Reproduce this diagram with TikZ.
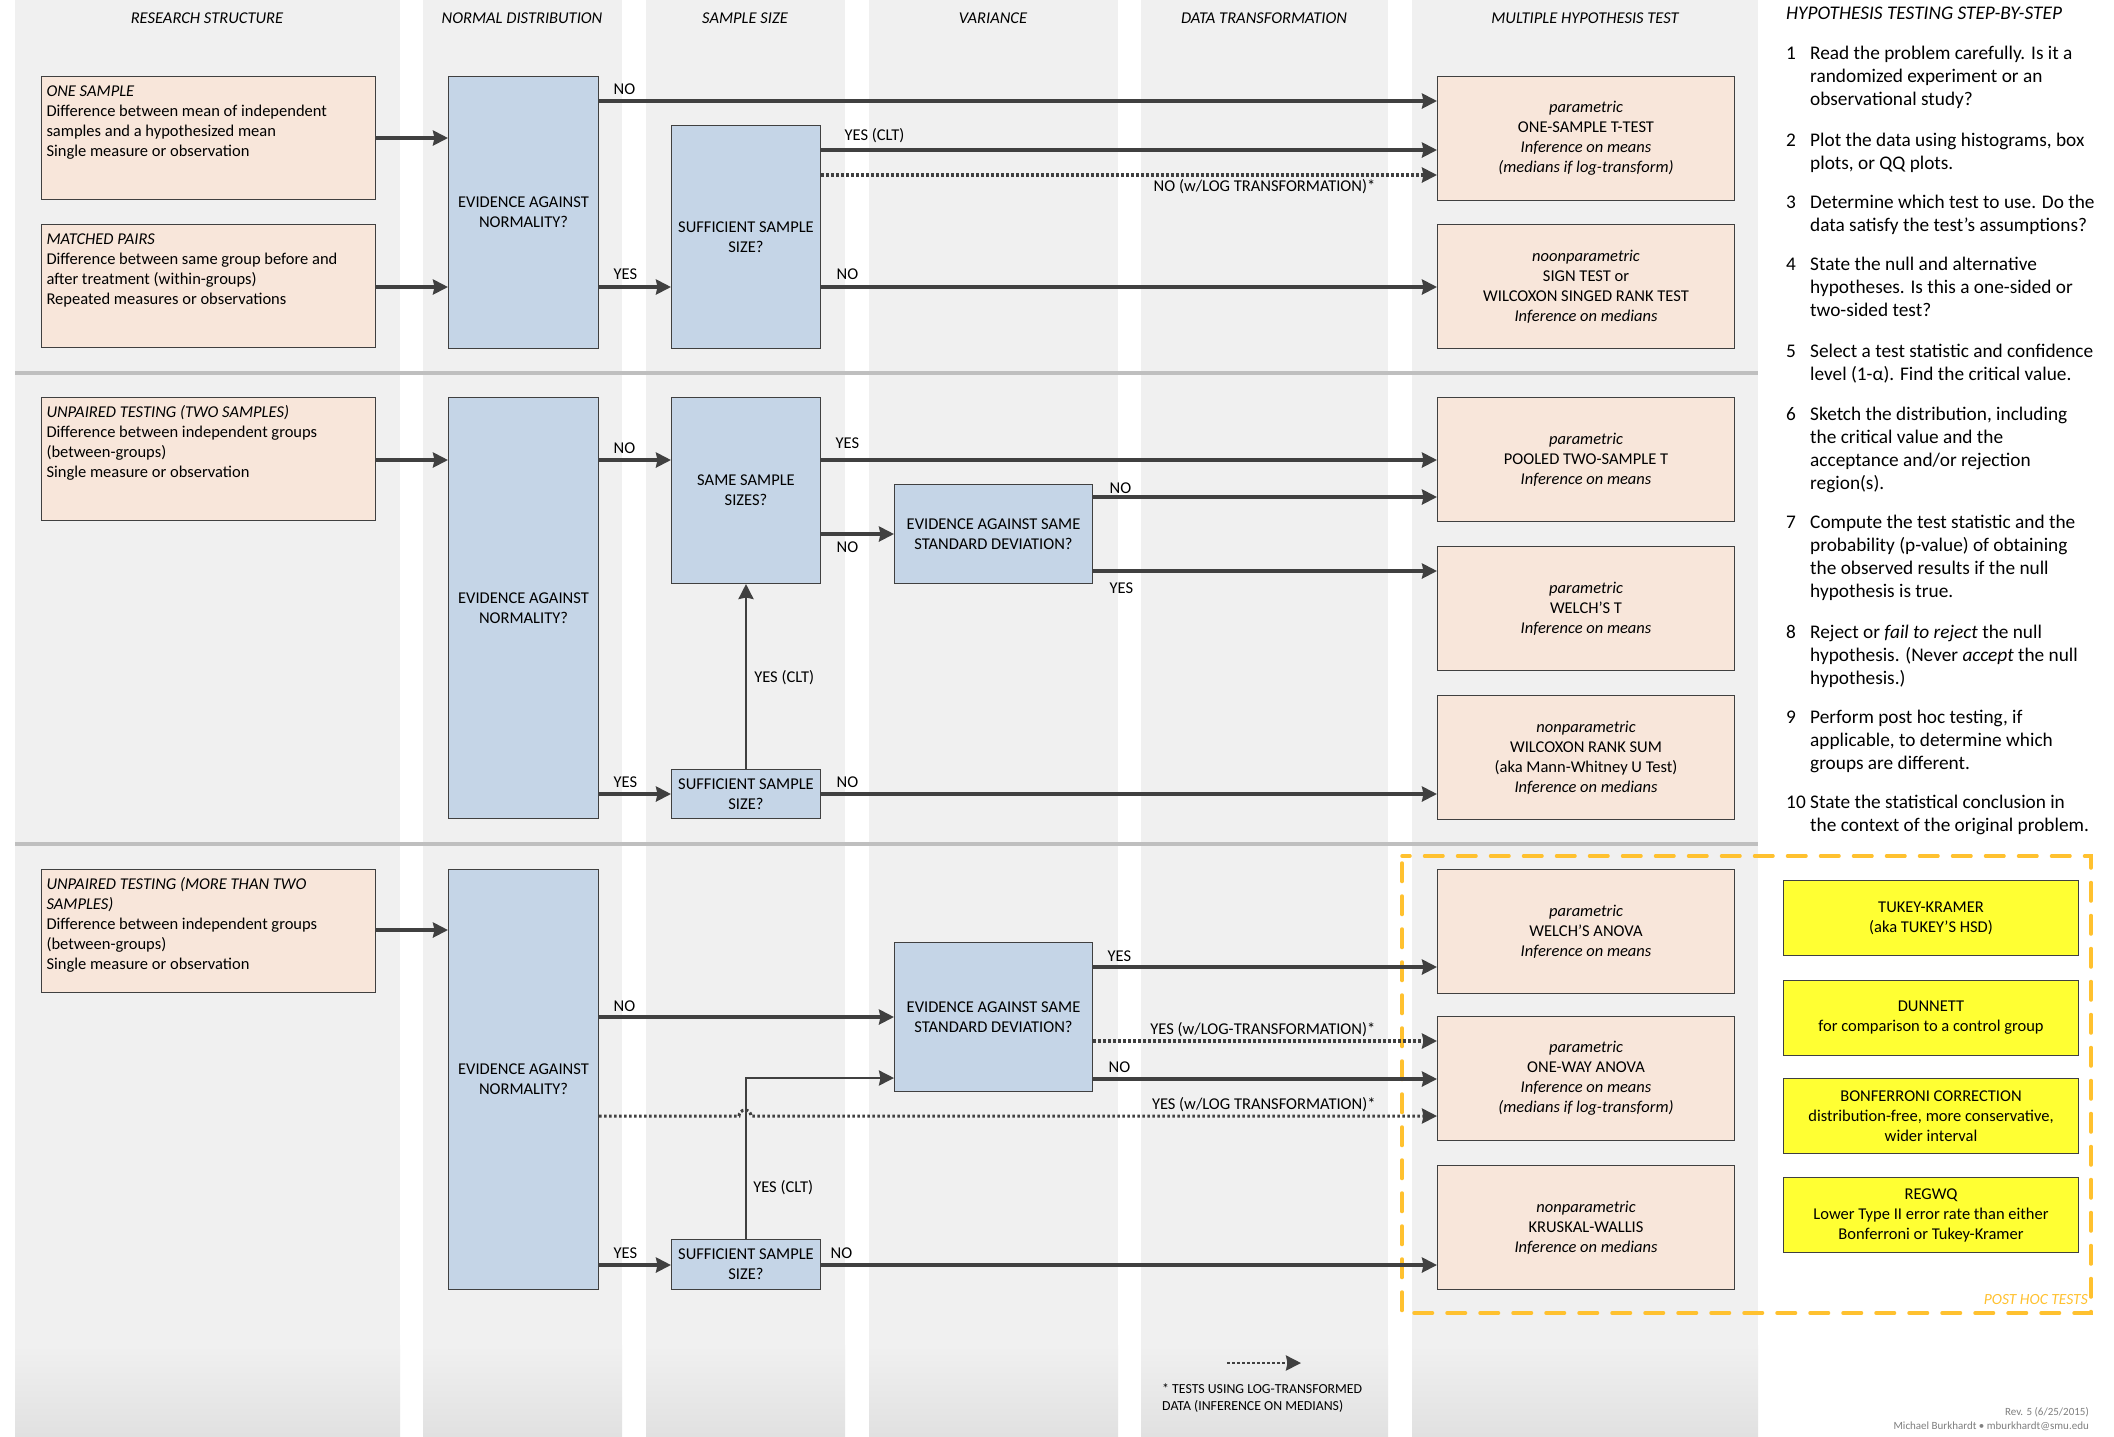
\documentclass[tikz,border=0pt]{standalone}
\usepackage{fontspec}
\setmainfont{Carlito}
\usetikzlibrary{arrows.meta}
\definecolor{htcolbg}{HTML}{F0F0F0}
\definecolor{htshade}{HTML}{E1E1E1}
\definecolor{htrule}{HTML}{BFBFBF}
\definecolor{htline}{HTML}{404040}
\definecolor{htbeige}{HTML}{F8E6DA}
\definecolor{htblue}{HTML}{C5D5E7}
\definecolor{htyellow}{HTML}{FFFF33}
\definecolor{htgold}{HTML}{FFC12F}
\definecolor{htgray}{HTML}{7F7F7F}
\newcommand{\casetext}[1]{\parbox[t][111pt][t]{324pt}{\strut #1}}
\newcommand{\stepitem}[2]{\parbox[t]{320pt}{\hangindent=24pt\hangafter=1\noindent\makebox[24pt][l]{#1}#2}}

\begin{document}
\begin{tikzpicture}[
  x=1pt, y=-1pt,
  every node/.style={font=\fontsize{16.5}{20}\selectfont},
  panel/.style={draw=htline, line width=1pt, anchor=north west, inner sep=0pt},
  study/.style={panel, fill=htbeige, minimum width=334pt, minimum height=123pt, inner xsep=5pt, inner ysep=6pt},
  query/.style={panel, fill=htblue, align=center},
  result/.style={panel, fill=htbeige, align=center, minimum width=297pt, minimum height=124pt},
  posthoc/.style={panel, fill=htyellow, align=center, minimum width=295pt, minimum height=75pt},
  heading/.style={anchor=base, inner sep=0pt, font=\fontsize{16.5}{20}\selectfont\itshape},
  stepline/.style={anchor=base west, inner sep=0pt, font=\fontsize{19.3}{23}\selectfont},
  tag/.style={inner sep=0pt, anchor=base west, at start, xshift=14pt},
  tagend/.style={inner sep=0pt, anchor=base east, at end, xshift=-60pt},
  flow/.style={draw=htline, line width=3.3pt, -{Stealth[length=15pt, width=15pt, inset=1.5pt]}},
  logflow/.style={flow, line width=3.5pt, dash pattern=on 2.7pt off 2.3pt}
]
  \useasboundingbox (0,0) rectangle (2114,1436);
  \fill[white] (0,0) rectangle (2114,1436);

  % columns and row rules
  \foreach \xa/\xb in {15/400, 423/622, 646/845, 869/1118, 1141/1388, 1412/1758} {
    \fill[htcolbg] (\xa,0) rectangle (\xb,1436);
    \shade[top color=htcolbg, bottom color=htshade] (\xa,1345) rectangle (\xb,1436);
  }
  \foreach \yy in {373, 844}
    \draw[htrule, line width=4pt] (15,\yy) -- (1758,\yy);

  % headings
  \node[heading] (hdstudy) at (207,23) {RESEARCH STRUCTURE};
  \node[heading] (hdnormal) at (522,23) {NORMAL DISTRIBUTION};
  \node[heading] (hdsize) at (745,23) {SAMPLE SIZE};
  \node[heading] (hdvar) at (993,23) {VARIANCE};
  \node[heading] (hdtrans) at (1264,23) {DATA TRANSFORMATION};
  \node[heading] (hdtest) at (1585,23) {MULTIPLE HYPOTHESIS TEST};

  % research structure
  \node[study] (onesample) at (41,76) {\casetext{\textit{ONE SAMPLE}\\Difference between mean of independent\\samples and a hypothesized mean\\Single measure or observation}};
  \node[study] (matched) at (41,224) {\casetext{\textit{MATCHED PAIRS}\\Difference between same group before and\\after treatment (within-groups)\\Repeated measures or observations}};
  \node[study] (unpairedtwo) at (41,397) {\casetext{\textit{UNPAIRED TESTING (TWO SAMPLES)}\\Difference between independent groups\\(between-groups)\\Single measure or observation}};
  \node[study] (unpairedmore) at (41,869) {\casetext{\textit{UNPAIRED TESTING (MORE THAN TWO}\\\textit{SAMPLES)}\\Difference between independent groups\\(between-groups)\\Single measure or observation}};

  % questions
  \node[query, minimum width=150pt, minimum height=272pt] (ean1) at (448,76) {EVIDENCE AGAINST\\NORMALITY?};
  \node[query, minimum width=149pt, minimum height=223pt] (sss1) at (671,125) {SUFFICIENT SAMPLE\\SIZE?};
  \node[query, minimum width=150pt, minimum height=421pt] (ean2) at (448,397) {EVIDENCE AGAINST\\NORMALITY?};
  \node[query, minimum width=149pt, minimum height=186pt] (same) at (671,397) {SAME SAMPLE\\SIZES?};
  \node[query, minimum width=149pt, minimum height=49pt] (sss2) at (671,769) {SUFFICIENT SAMPLE\\SIZE?};
  \node[query, minimum width=198pt, minimum height=99pt] (sd2) at (894,484) {EVIDENCE AGAINST SAME\\STANDARD DEVIATION?};
  \node[query, minimum width=150pt, minimum height=420pt] (ean3) at (448,869) {EVIDENCE AGAINST\\NORMALITY?};
  \node[query, minimum width=198pt, minimum height=149pt] (sd3) at (894,942) {EVIDENCE AGAINST SAME\\STANDARD DEVIATION?};
  \node[query, minimum width=149pt, minimum height=50pt] (sss3) at (671,1239) {SUFFICIENT SAMPLE\\SIZE?};

  % tests
  \node[result] (ttest) at (1437,76) {\textit{parametric}\\ONE-SAMPLE T-TEST\\\textit{Inference on means}\\\textit{(medians if log-transform)}};
  \node[result] (signtest) at (1437,224) {\textit{noonparametric}\\SIGN TEST or\\WILCOXON SINGED RANK TEST\\\textit{Inference on medians}};
  \node[result] (pooled) at (1437,397) {\textit{parametric}\\POOLED TWO-SAMPLE T\\\textit{Inference on means}};
  \node[result] (welcht) at (1437,546) {\textit{parametric}\\WELCH’S T\\\textit{Inference on means}};
  \node[result] (ranksum) at (1437,695) {\textit{nonparametric}\\WILCOXON RANK SUM\\(aka Mann-Whitney U Test)\\\textit{Inference on medians}};
  \node[result] (welchanova) at (1437,869) {\textit{parametric}\\WELCH’S ANOVA\\\textit{Inference on means}};
  \node[result] (oneway) at (1437,1016) {\textit{parametric}\\ONE-WAY ANOVA\\\textit{Inference on means}\\\textit{(medians if log-transform)}};
  \node[result] (kruskal) at (1437,1165) {\textit{nonparametric}\\KRUSKAL-WALLIS\\\textit{Inference on medians}};

  % post hoc tests
  \node[posthoc] (tukey) at (1783,880) {TUKEY-KRAMER\\(aka TUKEY’S HSD)};
  \node[posthoc] (dunnett) at (1783,980) {DUNNETT\\for comparison to a control group};
  \node[posthoc] (bonferroni) at (1783,1078) {BONFERRONI CORRECTION\\distribution-free, more conservative,\\wider interval};
  \node[posthoc] (regwq) at (1783,1177) {REGWQ\\Lower Type II error rate than either\\Bonferroni or Tukey-Kramer};
  \draw[htgold, line width=3.5pt, dash pattern=on 18.5pt off 14.5pt, dash phase=-7pt, line cap=round] (1402,856) rectangle (2091,1313);
  \node[anchor=base east, inner sep=0pt, text=htgold, font=\fontsize{15.5}{18}\selectfont\itshape] (posthoclabel) at (2088,1304) {POST HOC TESTS};

  % row 1
  \draw[flow] (onesample.east |- 0,138) -- (ean1.west |- 0,138);
  \draw[flow] (matched.east |- 0,287) -- (ean1.west |- 0,287);
  \draw[flow] (ean1.east |- 0,101) -- node[tag, xshift=-1pt, yshift=7pt] {NO} (ttest.west |- 0,101);
  \draw[flow] (ean1.east |- 0,287) -- node[tag, xshift=-1pt, yshift=8pt] {YES} (sss1.west |- 0,287);
  \draw[flow] (sss1.east |- 0,150) -- node[tag, xshift=8pt, yshift=10pt] {YES (CLT)} (ttest.west |- 0,150);
  \draw[logflow] (sss1.east |- 0,175) -- node[tagend, yshift=-16pt] {NO (w/LOG TRANSFORMATION)*} (ttest.west |- 0,175);
  \draw[flow] (sss1.east |- 0,287) -- node[tag, yshift=8pt] {NO} (signtest.west |- 0,287);

  % row 2
  \draw[flow] (unpairedtwo.east |- 0,460) -- (ean2.west |- 0,460);
  \draw[flow] (ean2.east |- 0,460) -- node[tag, xshift=-1pt, yshift=7pt] {NO} (same.west |- 0,460);
  \draw[flow] (same.east |- 0,460) -- node[tag, xshift=-1pt, yshift=12pt] {YES} (pooled.west |- 0,460);
  \draw[flow] (same.east |- 0,534) -- node[tag, yshift=-18pt] {NO} (sd2.west |- 0,534);
  \draw[flow] (sd2.east |- 0,497) -- node[tag, xshift=1pt, yshift=4pt] {NO} (pooled.west |- 0,497);
  \draw[flow] (sd2.east |- 0,571) -- node[tag, xshift=1pt, yshift=-22pt] {YES} (welcht.west |- 0,571);
  \draw[flow] (ean2.east |- 0,794) -- node[tag, xshift=-1pt, yshift=7pt] {YES} (sss2.west |- 0,794);
  \draw[flow, line width=2.6pt] (sss2.north) -- node[inner sep=0pt, pos=0.47, anchor=base west, xshift=7pt] {YES (CLT)} (same.south);
  \draw[flow] (sss2.east |- 0,794) -- node[tag, yshift=7pt] {NO} (ranksum.west |- 0,794);

  % row 3
  \draw[flow] (unpairedmore.east |- 0,930) -- (ean3.west |- 0,930);
  \draw[flow] (ean3.east |- 0,1017) -- node[tag, xshift=-1pt, yshift=6pt] {NO} (sd3.west |- 0,1017);
  \draw[flow] (sd3.east |- 0,967) -- node[tag, xshift=-1pt, yshift=6pt] {YES} (welchanova.west |- 0,967);
  \draw[logflow] (sd3.east |- 0,1041) -- node[tagend, yshift=7pt] {YES (w/LOG-TRANSFORMATION)*} (oneway.west |- 0,1041);
  \draw[flow] (sd3.east |- 0,1079) -- node[tag, yshift=7pt] {NO} (oneway.west |- 0,1079);
  \draw[logflow, line width=3pt] (ean3.east |- 0,1116) -- (739,1116) arc[start angle=180, end angle=0, radius=6pt]
    -- node[tagend, yshift=7pt] {YES (w/LOG TRANSFORMATION)*} (oneway.west |- 0,1116);
  \draw[flow, line width=2.6pt] (sss3.north) |- node[inner sep=0pt, pos=0.143, anchor=base west, xshift=6pt] {YES (CLT)} (sd3.west |- 0,1078);
  \draw[flow] (ean3.east |- 0,1265) -- node[tag, xshift=-1pt, yshift=7pt] {YES} (sss3.west |- 0,1265);
  \draw[flow] (sss3.east |- 0,1265) -- node[tag, xshift=-6pt, yshift=7pt] {NO} (kruskal.west |- 0,1265);

  % legend
  \coordinate (legfrom) at (1227,1363);
  \coordinate (legto) at (1301,1363);
  \draw[logflow, line width=2.8pt] (legfrom) -- (legto);
  \node[anchor=base west, inner sep=0pt, align=left, font=\fontsize{13.8}{17}\selectfont] (legtext) at (1162,1410) {* TESTS USING LOG-TRANSFORMED\\DATA (INFERENCE ON MEDIANS)};

  % steps
  \node[stepline, font=\fontsize{19.3}{23}\selectfont\itshape] (stephead) at (1786,19) {HYPOTHESIS TESTING STEP-BY-STEP};
  \node[stepline] (step1) at (1786,59) {\stepitem{1}{Read the problem carefully. Is it a\\randomized experiment or an\\observational study?}};
  \node[stepline] (step2) at (1786,146) {\stepitem{2}{Plot the data using histograms, box\\plots, or QQ plots.}};
  \node[stepline] (step3) at (1786,208) {\stepitem{3}{Determine which test to use. Do the\\data satisfy the test’s assumptions?}};
  \node[stepline] (step4) at (1786,270) {\stepitem{4}{State the null and alternative\\hypotheses. Is this a one-sided or\\two-sided test?}};
  \node[stepline] (step5) at (1786,357) {\stepitem{5}{Select a test statistic and confidence\\level (1-α). Find the critical value.}};
  \node[stepline] (step6) at (1786,420) {\stepitem{6}{Sketch the distribution, including\\the critical value and the\\acceptance and/or rejection\\region(s).}};
  \node[stepline] (step7) at (1786,528) {\stepitem{7}{Compute the test statistic and the\\probability (p-value) of obtaining\\the observed results if the null\\hypothesis is true.}};
  \node[stepline] (step8) at (1786,638) {\stepitem{8}{Reject or \textit{fail to reject} the null\\hypothesis. (Never \textit{accept} the null\\hypothesis.)}};
  \node[stepline] (step9) at (1786,723) {\stepitem{9}{Perform post hoc testing, if\\applicable, to determine which\\groups are different.}};
  \node[stepline] (step10) at (1786,808) {\stepitem{10}{State the statistical conclusion in\\the context of the original problem.}};

  % footer
  \node[anchor=base east, inner sep=0pt, align=right, text=htgray, font=\fontsize{11}{14}\selectfont] (credit) at (2089,1429) {Rev. 5 (6/25/2015)\\Michael Burkhardt • mburkhardt@smu.edu};
\end{tikzpicture}
\end{document}
